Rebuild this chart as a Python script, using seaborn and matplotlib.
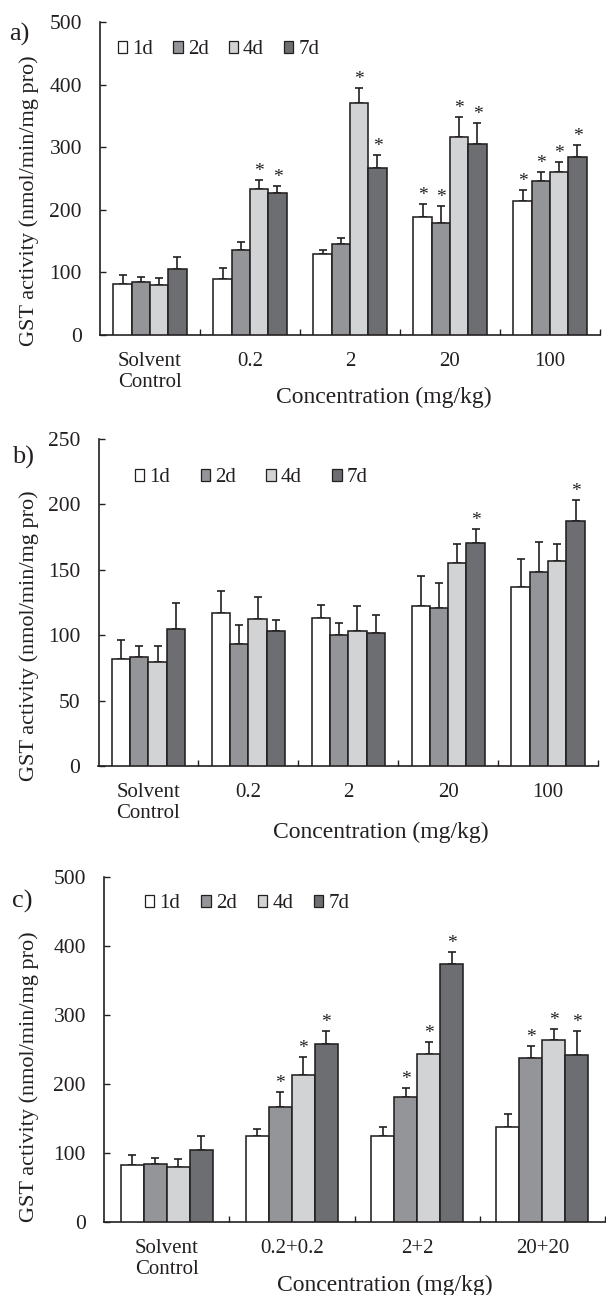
import numpy as np
import pandas as pd
import matplotlib
matplotlib.use("Agg")
import matplotlib.pyplot as plt
import seaborn as sns
from matplotlib.patches import Patch

# ---------------- data ----------------
days = ["1d", "2d", "4d", "7d"]
day_colors = ["#ffffff", "#939598", "#d1d3d4", "#6d6e71"]

# panel a
a_conc = ["Solvent\nControl", "0.2", "2", "20", "100"]
a_means = [[82, 90, 130, 188, 214],
           [84, 136, 146, 179, 246],
           [80, 234, 370, 316, 260],
           [105, 227, 267, 305, 284]]
a_errs = [[14.5, 17, 6, 21, 17],
          [9, 12.5, 9, 27, 14],
          [11, 13, 25, 33, 16],
          [20, 11, 20, 33, 19]]
a_sig = [[0, 0, 0, 1, 1],
         [0, 0, 0, 1, 1],
         [0, 1, 1, 1, 1],
         [0, 1, 1, 1, 1]]
a_yticks = [0, 100, 200, 300, 400, 500]

# panel b
b_conc = ["Solvent\nControl", "0.2", "2", "20", "100"]
b_means = [[81.5, 117, 113, 122, 136.5],
           [83.5, 93, 100, 121, 148.5],
           [79.5, 112.5, 103, 155.5, 156.5],
           [105, 103.5, 101.5, 170.5, 187.5]]
b_errs = [[15, 17, 10, 23, 22],
          [8.5, 15, 9, 19, 23],
          [12, 16.5, 19, 14, 13],
          [20, 8, 14, 11, 16]]
b_sig = [[0, 0, 0, 0, 0],
         [0, 0, 0, 0, 0],
         [0, 0, 0, 0, 0],
         [0, 0, 0, 1, 1]]
b_yticks = [0, 50, 100, 150, 200, 250]

# panel c
c_conc = ["Solvent\nControl", "0.2+0.2", "2+2", "20+20"]
c_means = [[82, 124.5, 124, 137],
           [83.5, 167, 181, 238],
           [79.5, 213.5, 243, 264],
           [105, 258.5, 374.5, 242]]
c_errs = [[14.5, 10.5, 13, 20],
          [9, 21, 12.5, 17],
          [12, 25.5, 18, 16],
          [19.5, 18.5, 16.5, 35]]
c_sig = [[0, 0, 0, 0],
         [0, 1, 1, 1],
         [0, 1, 1, 1],
         [0, 1, 1, 1]]
c_yticks = [0, 100, 200, 300, 400, 500]

panel_letters = ["a)", "b)", "c)"]
ylabel_text = "GST activity (nmol/min/mg pro)"
xlabel_text = "Concentration (mg/kg)"

# ---------------- style ----------------
sns.set_style("ticks")
plt.rcParams["font.family"] = ["Liberation Serif", "DejaVu Serif"]
INK = "#231f20"
plt.rcParams["text.color"] = INK
plt.rcParams["axes.labelcolor"] = INK
plt.rcParams["xtick.color"] = INK
plt.rcParams["ytick.color"] = INK

W, H = 606, 1295
fig = plt.figure(figsize=(W / 100, H / 100), dpi=100)


def px_axes(left, right, top, bottom):
    return fig.add_axes([left / W, 1 - bottom / H, (right - left) / W, (bottom - top) / H])


# layout (pixels): left, right, top, bottom
layouts = [
    dict(box=(100, 600, 22, 335), letter=(19, 34), legend=(118, 50), colsp=0.95,
         ylab=(39, 0.43), xlab=(0.567, -0.165)),
    dict(box=(98.5, 598, 439, 766), letter=(23, 457), legend=(135, 478), colsp=1.45,
         ylab=(39, 0.40), xlab=(0.565, -0.17)),
    dict(box=(104, 605, 877, 1222), letter=(22, 901), legend=(145, 904), colsp=1.0,
         ylab=(39, 0.42), xlab=(0.56, -0.152)),
]

panels = [
    (a_conc, a_means, a_errs, a_sig, a_yticks),
    (b_conc, b_means, b_errs, b_sig, b_yticks),
    (c_conc, c_means, c_errs, c_sig, c_yticks),
]

for (conc, means, errs, sig, yticks), lay, letter in zip(panels, layouts, panel_letters):
    l, r, t, b = lay["box"]
    ax = px_axes(l, r, t, b)
    rows = []
    for di, d in enumerate(days):
        for ci, c in enumerate(conc):
            rows.append({"conc": c, "day": d, "value": means[di][ci]})
    df = pd.DataFrame(rows)
    sns.barplot(data=df, x="conc", y="value", hue="day", order=conc, hue_order=days,
                palette=day_colors, saturation=1, width=0.733, gap=0,
                edgecolor=INK, linewidth=1.15, errorbar=None, legend=False, ax=ax, zorder=3)

    bar_conts = list(ax.containers)
    for di, cont in enumerate(bar_conts):
        xs = [p.get_x() + p.get_width() / 2 for p in cont]
        ax.errorbar(xs, means[di], yerr=[np.zeros(len(xs)), errs[di]], fmt="none",
                    ecolor=INK, elinewidth=1.2, capsize=3.0, capthick=1.2, zorder=2)
        for x, m, e, s in zip(xs, means[di], errs[di], sig[di]):
            if s:
                ax.text(x, m + e, "*", ha="center", va="bottom", fontsize=14, color=INK)

    n = len(conc)
    ax.set_xlim(-0.5, n - 0.5)
    ax.set_ylim(yticks[0], yticks[-1])
    ax.set_yticks(yticks)
    ax.set_xticks(np.arange(n) + 0.5)
    ax.set_xticklabels([""] * n)
    ax.set_xticks(np.arange(n), minor=True)
    ax.set_xticklabels(conc, minor=True, fontsize=15)
    ax.tick_params(axis="x", which="major", direction="in", length=4, width=1.0)
    ax.tick_params(axis="x", which="minor", length=0, pad=12)
    ax.tick_params(axis="y", direction="in", length=4, width=1.0, pad=13, labelsize=15.5)
    sns.despine(ax=ax)
    for sp in ("left", "bottom"):
        ax.spines[sp].set_color(INK)
        ax.spines[sp].set_linewidth(1.2)

    ax.set_xlabel(xlabel_text, fontsize=17)
    ax.xaxis.set_label_coords(*lay["xlab"])
    ax.set_ylabel(ylabel_text, fontsize=16)
    ax.yaxis.set_label_coords((lay["ylab"][0] - l) / (r - l), lay["ylab"][1])

    handles = [Patch(facecolor=c, edgecolor=INK, linewidth=0.9) for c in day_colors]
    lx, ly = lay["legend"]
    ax.legend(handles, days, ncol=4, loc="center left",
              bbox_to_anchor=(lx / W, 1 - ly / H), bbox_transform=fig.transFigure,
              frameon=False, fontsize=15, handlelength=0.45, handleheight=0.45,
              handletextpad=0.25, columnspacing=lay["colsp"], borderpad=0, borderaxespad=0)

    fig.text(lay["letter"][0] / W, 1 - lay["letter"][1] / H, letter, ha="center", va="center",
             fontsize=19)

fig.savefig("out.png", dpi=100)
